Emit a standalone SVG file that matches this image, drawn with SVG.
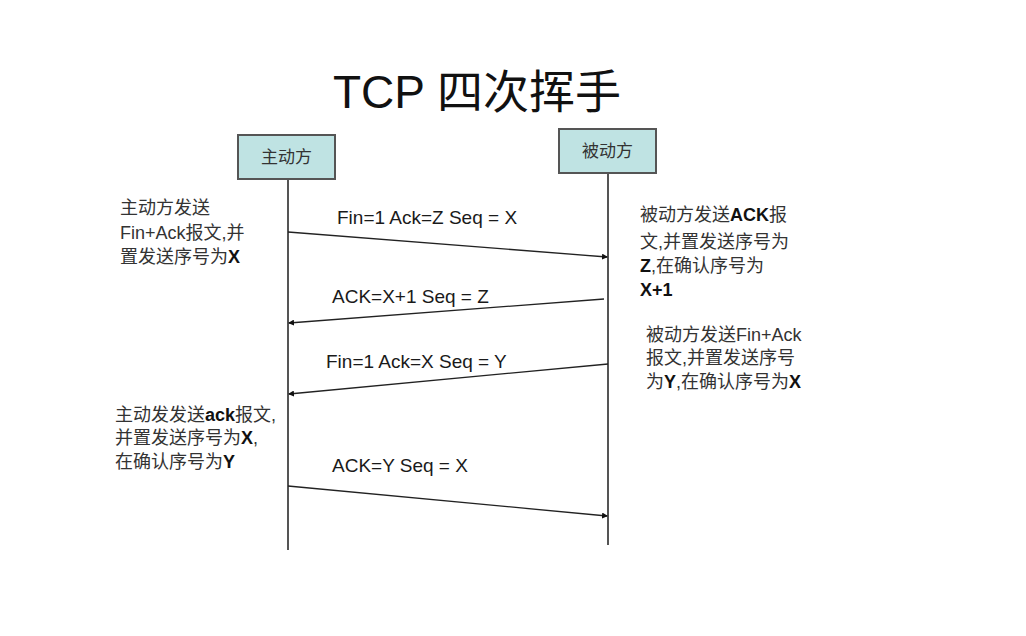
<svg xmlns="http://www.w3.org/2000/svg" width="1026" height="636" viewBox="0 0 1026 636">
<style>
.title{font-family:"Liberation Sans","Noto Sans CJK SC",sans-serif;font-size:46px;fill:#111}
.box{fill:#bfe3e3;stroke:#555;stroke-width:2}
.boxt{font-family:"Liberation Sans","Noto Sans CJK SC",sans-serif;font-size:17px;fill:#333;text-anchor:middle}
.life{stroke:#555;stroke-width:2}
.msg{stroke:#222;stroke-width:1.3;fill:none;marker-end:url(#ah)}
.lbl{font-family:"Liberation Sans","Noto Sans CJK SC",sans-serif;font-size:19px;fill:#1a1a1a}
.note{font-family:"Liberation Sans","Noto Sans CJK SC",sans-serif;font-size:18px;fill:#333}
.b{font-weight:bold;fill:#111}
</style>
<defs>
<marker id="ah" markerWidth="6" markerHeight="6" refX="5" refY="3" orient="auto" markerUnits="userSpaceOnUse">
<path d="M0,0 L6,3 L0,6 z" fill="#111"/>
</marker>
</defs>
<rect width="1026" height="636" fill="#fff"/>
<text class="title" x="333" y="108">TCP 四次挥手</text>
<g id="client">
<rect class="box" x="238" y="135" width="97" height="44"/>
<text class="boxt" x="286.5" y="163">主动方</text>
<line class="life" x1="288" y1="179" x2="288" y2="550"/>
</g>
<g id="server">
<rect class="box" x="559" y="129" width="97" height="44"/>
<text class="boxt" x="607.5" y="157">被动方</text>
<line class="life" x1="608" y1="173" x2="608" y2="545"/>
</g>
<g id="connectors">
<line class="msg" x1="288" y1="232" x2="607" y2="257"/>
<line class="msg" x1="604" y1="299" x2="289" y2="323"/>
<line class="msg" x1="608" y1="364" x2="289" y2="394"/>
<line class="msg" x1="288" y1="486" x2="607" y2="516"/>
</g>
<g id="labels">
<text class="lbl" x="337" y="224">Fin=1 Ack=Z Seq = X</text>
<text class="lbl" x="332" y="303">ACK=X+1 Seq = Z</text>
<text class="lbl" x="326" y="368">Fin=1 Ack=X Seq = Y</text>
<text class="lbl" x="332" y="472">ACK=Y Seq = X</text>
</g>
<g id="note-client-1" class="note">
<text x="120" y="214">主动方发送</text>
<text x="120" y="239">Fin+Ack报文,并</text>
<text x="120" y="263">置发送序号为<tspan class="b">X</tspan></text>
</g>
<g id="note-server-1" class="note">
<text x="640" y="221">被动方发送<tspan class="b">ACK</tspan>报</text>
<text x="640" y="248">文,并置发送序号为</text>
<text x="640" y="272"><tspan class="b">Z</tspan>,在确认序号为</text>
<text x="640" y="296"><tspan class="b">X+1</tspan></text>
</g>
<g id="note-server-2" class="note">
<text x="646" y="341">被动方发送Fin+Ack</text>
<text x="646" y="364">报文,并置发送序号</text>
<text x="646" y="388">为<tspan class="b">Y</tspan>,在确认序号为<tspan class="b">X</tspan></text>
</g>
<g id="note-client-2" class="note">
<text x="115" y="421">主动发发送<tspan class="b">ack</tspan>报文,</text>
<text x="115" y="444">并置发送序号为<tspan class="b">X</tspan>,</text>
<text x="115" y="468">在确认序号为<tspan class="b">Y</tspan></text>
</g>
</svg>
